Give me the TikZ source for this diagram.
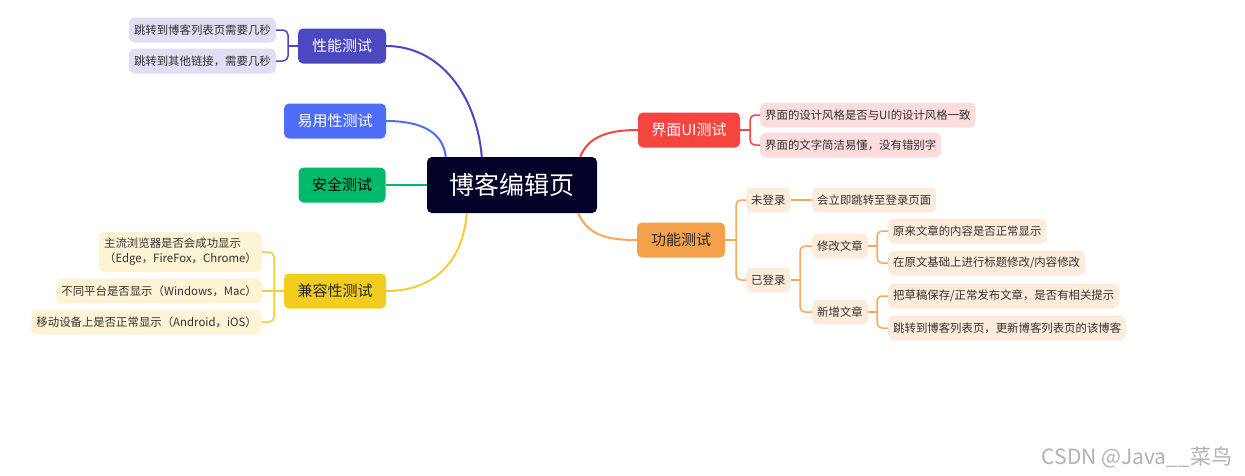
\documentclass[tikz,border=0pt]{standalone}
\usepackage{fontspec}
\setmainfont{Noto Sans CJK SC}
\usetikzlibrary{positioning}
\definecolor{rootbg}{HTML}{03032A}
\definecolor{perfbg}{HTML}{4B48C0}
\definecolor{perfleaf}{HTML}{DFDEF2}
\definecolor{usabbg}{HTML}{4E6EF7}
\definecolor{safebg}{HTML}{00BA6C}
\definecolor{compbg}{HTML}{F2CD1F}
\definecolor{compleaf}{HTML}{FCF4D4}
\definecolor{compline}{HTML}{F2CD3A}
\definecolor{uibg}{HTML}{F5453F}
\definecolor{uileaf}{HTML}{FCDCDC}
\definecolor{funcbg}{HTML}{F5A04B}
\definecolor{funcleaf}{HTML}{FDEBDC}
\definecolor{funcline}{HTML}{F7A95A}
\tikzset{
  rootbox/.style={
    shape = rectangle,
    rounded corners = 5pt,
    fill = rootbg,
    text = white,
    minimum width = 170pt,
    minimum height = 56pt,
    font = \fontsize{25}{28}\selectfont
  },
}
\tikzset{
  topic/.style={
    shape = rectangle,
    rounded corners = 5pt,
    inner xsep = 0pt,
    minimum height = 35pt,
    font = \fontsize{15}{18}\selectfont
  },
  leaf/.style={
    shape = rectangle,
    rounded corners = 6pt,
    inner xsep = 5pt,
    inner ysep = 3pt,
    minimum height = 25pt,
    text = black!80,
    font = \fontsize{11.4}{15}\selectfont
  },
  branch/.style={
    line width = 2pt
  },
  twig/.style={
    line width = 1.5pt,
    rounded corners = 5pt
  },
  watermark/.style={
    text = black!30,
    font = \fontsize{21}{24}\selectfont
  }
}

\begin{document}
\begin{tikzpicture}[x=1pt,y=-1pt]
    \useasboundingbox (0,0) rectangle (1245,475);

    \node[rootbox] (root) at (512,185) {博客编辑页};

    % left side
    \node[topic, fill = perfbg, text = white, minimum width = 88pt] (perf) at (342,46) {性能测试};
    \node[leaf, fill = perfleaf, anchor = east] (perf1) at (276,30) {跳转到博客列表页需要几秒};
    \node[leaf, fill = perfleaf, anchor = east] (perf2) at (276,61) {跳转到其他链接，需要几秒};
    \node[topic, fill = usabbg, text = white, minimum width = 102pt] (usab) at (335,121) {易用性测试};
    \node[topic, fill = safebg, text = black, minimum width = 87pt] (safe) at (342,185) {安全测试};
    \node[topic, fill = compbg, text = black!85, minimum width = 102pt] (comp) at (335,291) {兼容性测试};
    \node[leaf, fill = compleaf, anchor = east, align = left, minimum height = 40pt] (comp1) at (262,252) {主流浏览器是否会成功显示\\（Edge，FireFox，Chrome）};
    \node[leaf, fill = compleaf, anchor = east] (comp2) at (262,291) {不同平台是否显示（Windows，Mac）};
    \node[leaf, fill = compleaf, anchor = east] (comp3) at (262,322) {移动设备上是否正常显示（Android，iOS）};

    % right side
    \node[topic, fill = uibg, text = white, minimum width = 102pt] (ui) at (689,130) {界面UI测试};
    \node[leaf, fill = uileaf, anchor = west] (ui1) at (760,115) {界面的设计风格是否与UI的设计风格一致};
    \node[leaf, fill = uileaf, anchor = west] (ui2) at (760,145) {界面的文字简洁易懂，没有错别字};
    \node[topic, fill = funcbg, text = black!85, minimum width = 88pt] (func) at (681,240) {功能测试};
    \node[leaf, fill = funcleaf, anchor = west] (nolog) at (746,200) {未登录};
    \node[leaf, fill = funcleaf, anchor = west] (jump) at (812,200) {会立即跳转至登录页面};
    \node[leaf, fill = funcleaf, anchor = west] (logged) at (746,280) {已登录};
    \node[leaf, fill = funcleaf, anchor = west] (edit) at (812,246) {修改文章};
    \node[leaf, fill = funcleaf, anchor = west] (edit1) at (888,231) {原来文章的内容是否正常显示};
    \node[leaf, fill = funcleaf, anchor = west] (edit2) at (888,263) {在原文基础上进行标题修改/内容修改};
    \node[leaf, fill = funcleaf, anchor = west] (add) at (812,312) {新增文章};
    \node[leaf, fill = funcleaf, anchor = west] (add1) at (888,296) {把草稿保存/正常发布文章，是否有相关提示};
    \node[leaf, fill = funcleaf, anchor = west] (add2) at (888,328) {跳转到博客列表页，更新博客列表页的该博客};

    \node[watermark] (wm) at (1137,457) {CSDN @Java\_\_菜鸟};

    % main branches
    \draw[branch, perfbg] (perf.east) .. controls +(55,0) and +(-5,-60) .. ([xshift=55pt]root.north west);
    \draw[branch, usabbg] (usab.east) .. controls +(35,0) and +(-3,-25) .. ([xshift=19pt]root.north west);
    \draw[branch, safebg] (safe.east) -- (root.west);
    \draw[branch, compline] (comp.east) .. controls +(55,0) and +(-3,40) .. ([xshift=40pt]root.south west);
    \draw[branch, uibg] ([xshift=-17pt]root.north east) .. controls +(8,-20) and +(-30,0) .. (ui.west);
    \draw[branch, funcline] ([xshift=-19pt]root.south east) .. controls +(10,22) and +(-30,0) .. (func.west);

    % brackets
    \coordinate (perfj) at (288,46);
    \draw[twig, perfbg] (perf.west) -- (perfj);
    \draw[twig, perfbg] (perf1.east) -| (perfj) |- (perf2.east);
    \coordinate (compj) at (274,291);
    \draw[twig, compline] (comp.west) -- (comp2.east);
    \draw[twig, compline] (comp1.east) -| (compj) |- (comp3.east);
    \coordinate (uij) at (750,130);
    \draw[twig, uibg] (ui.east) -- (uij);
    \draw[twig, uibg] (ui1.west) -| (uij) |- (ui2.west);
    \coordinate (funcj) at (736,240);
    \draw[twig, funcline] (func.east) -- (funcj);
    \draw[twig, funcline] (nolog.west) -| (funcj) |- (logged.west);
    \draw[twig, funcline] (nolog.east) -- (jump.west);
    \coordinate (loggedj) at (800,280);
    \draw[twig, funcline] (logged.east) -- (loggedj);
    \draw[twig, funcline] (edit.west) -| (loggedj) |- (add.west);
    \coordinate (editj) at (877,246);
    \draw[twig, funcline] (edit.east) -- (editj);
    \draw[twig, funcline] (edit1.west) -| (editj) |- (edit2.west);
    \coordinate (addj) at (877,312);
    \draw[twig, funcline] (add.east) -- (addj);
    \draw[twig, funcline] (add1.west) -| (addj) |- (add2.west);
\end{tikzpicture}
\end{document}
